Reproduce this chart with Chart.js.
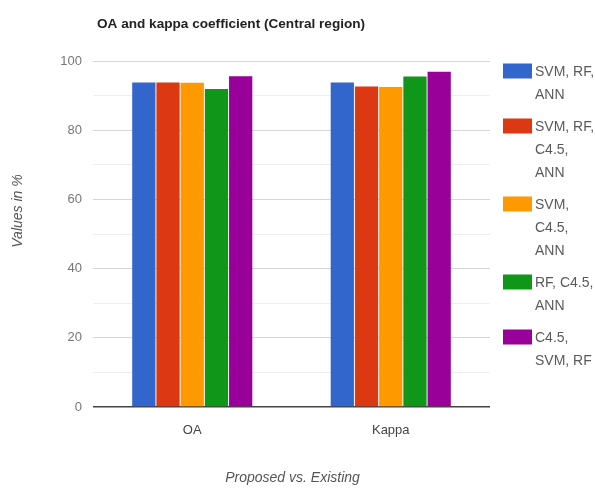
<!DOCTYPE html>
<html>
<head>
<meta charset="utf-8">
<script src="https://cdn.jsdelivr.net/npm/chart.js@4/dist/chart.umd.min.js"></script>
<style>
  html, body { margin: 0; padding: 0; background: #ffffff; }
  #wrap { width: 595px; height: 490px; }
</style>
</head>
<body>
<div id="wrap"><canvas id="c" width="595" height="490"></canvas></div>
<script>
// Categories on the x axis
const categories = ['OA', 'Kappa'];

// Classifier combinations (one series each)
const seriesLabels = [
  'SVM, RF, ANN',
  'SVM, RF, C4.5, ANN',
  'SVM, C4.5, ANN',
  'RF, C4.5, ANN',
  'C4.5, SVM, RF'
];

// Values in % for OA and Kappa
const svmRfAnn     = [93.8, 93.8];
const svmRfC45Ann  = [93.8, 92.6];
const svmC45Ann    = [93.7, 92.5];
const rfC45Ann     = [91.9, 95.5];
const c45SvmRf     = [95.6, 96.9];

const seriesColors = ['#3366cc', '#dc3912', '#ff9900', '#109618', '#990099'];

// Y axis range and tick spacing (labels every 20, light lines every 10)
const yMin = 0;
const yMax = 100;
const yStep = 10;
const yLabelStep = 20;

const chartTitle = 'OA and kappa coefficient (Central region)';
const xAxisTitle = 'Proposed vs. Existing';
const yAxisTitle = 'Values in %';

const seriesValues = [svmRfAnn, svmRfC45Ann, svmC45Ann, rfC45Ann, c45SvmRf];

const FONT = '"Liberation Sans", Arial, sans-serif';

// Draws the title, axis titles and the wrapped legend on the right
const decorations = {
  id: 'decorations',
  afterDraw(chart) {
    const ctx = chart.ctx;
    const area = chart.chartArea;
    ctx.save();

    // Chart title
    ctx.font = 'bold 13.6px ' + FONT;
    ctx.fillStyle = '#222222';
    ctx.textAlign = 'left';
    ctx.textBaseline = 'middle';
    ctx.fillText(chartTitle, 97, 24);

    // X axis title
    ctx.font = 'italic 14px ' + FONT;
    ctx.fillStyle = '#555555';
    ctx.textAlign = 'center';
    ctx.fillText(xAxisTitle, (area.left + area.right) / 2 + 1, 478);

    // Y axis title (rotated)
    ctx.save();
    ctx.translate(18, 211);
    ctx.rotate(-Math.PI / 2);
    ctx.fillText(yAxisTitle, 0, 0);
    ctx.restore();

    // Legend with word wrapping
    const boxX = 503, boxW = 29, boxH = 15;
    const textX = 535, maxW = 62;
    const lineH = 23, itemGap = 9;
    let y = 72;
    ctx.font = '14px ' + FONT;
    ctx.textAlign = 'left';
    chart.data.datasets.forEach((ds) => {
      const words = ds.label.split(' ');
      const lines = [];
      let cur = '';
      words.forEach((w) => {
        const test = cur ? cur + ' ' + w : w;
        if (cur && ctx.measureText(test).width > maxW) {
          lines.push(cur);
          cur = w;
        } else {
          cur = test;
        }
      });
      if (cur) lines.push(cur);

      ctx.fillStyle = ds.backgroundColor;
      ctx.fillRect(boxX, y - boxH / 2 - 1, boxW, boxH);
      ctx.fillStyle = '#5a5a5a';
      lines.forEach((ln, i) => {
        ctx.fillText(ln, textX, y + i * lineH);
      });
      y += lines.length * lineH + itemGap;
    });

    ctx.restore();
  }
};

new Chart(document.getElementById('c'), {
  type: 'bar',
  data: {
    labels: categories,
    datasets: seriesLabels.map((label, i) => ({
      label: label,
      data: seriesValues[i],
      backgroundColor: seriesColors[i],
      borderWidth: 0,
      categoryPercentage: 0.61,
      barPercentage: 0.96
    }))
  },
  options: {
    responsive: false,
    animation: false,
    devicePixelRatio: 1,
    layout: { padding: { top: 61, right: 105, left: 0, bottom: 0 } },
    plugins: {
      legend: { display: false },
      title: { display: false },
      tooltip: { enabled: false }
    },
    scales: {
      x: {
        grid: { display: false, drawTicks: false },
        border: { display: false },
        ticks: {
          padding: 16,
          color: '#444444',
          font: { family: FONT, size: 13 }
        },
        afterFit(scale) { scale.height = 83; }
      },
      y: {
        min: yMin,
        max: yMax,
        border: { display: false },
        grid: {
          drawTicks: false,
          color(ctx) {
            const v = ctx.tick ? ctx.tick.value : null;
            if (v === 0) return '#444444';
            if (v % yLabelStep === 0) return '#d6d6d6';
            return '#eeeeee';
          },
          lineWidth(ctx) {
            return ctx.tick && ctx.tick.value === 0 ? 1.5 : 1;
          }
        },
        ticks: {
          stepSize: yStep,
          padding: 11,
          color: '#777777',
          font: { family: FONT, size: 13 },
          callback(v) { return v % yLabelStep === 0 ? v : ''; }
        },
        afterFit(scale) { scale.width = 93; }
      }
    }
  },
  plugins: [decorations]
});
</script>
</body>
</html>
